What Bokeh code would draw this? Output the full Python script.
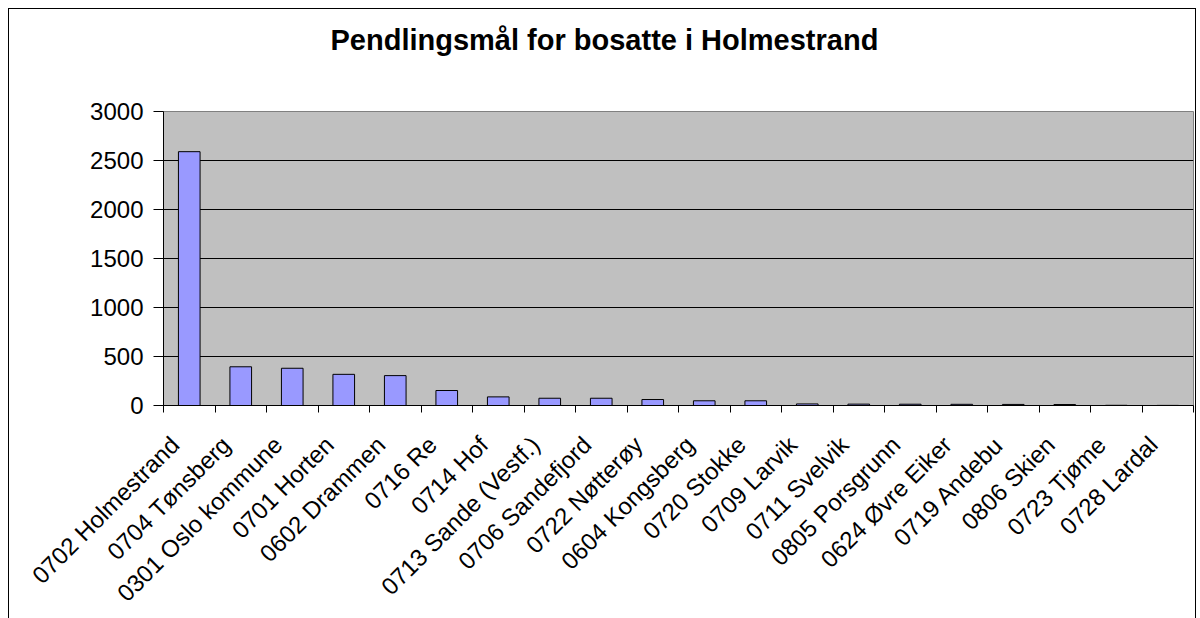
from bokeh.plotting import figure
from bokeh.models import FixedTicker, Range1d, ColumnDataSource, Title
from bokeh.embed import file_html
from bokeh.resources import INLINE
import math

categories = ["0702 Holmestrand", "0704 Tønsberg", "0301 Oslo kommune", "0701 Horten",
              "0602 Drammen", "0716 Re", "0714 Hof", "0713 Sande (Vestf.)",
              "0706 Sandefjord", "0722 Nøtterøy", "0604 Kongsberg", "0720 Stokke",
              "0709 Larvik", "0711 Svelvik", "0805 Porsgrunn", "0624 Øvre Eiker",
              "0719 Andebu", "0806 Skien", "0723 Tjøme", "0728 Lardal"]
values = [2590, 395, 380, 318, 305, 153, 88, 74, 74, 61, 48, 48,
          16, 14, 13, 12, 11, 10, 2, 1]
y_ticks = [0, 500, 1000, 1500, 2000, 2500, 3000]
title_text = "Pendlingsmål for bosatte i Holmestrand"

n = len(categories)
xpos = [i + 0.5 for i in range(n)]
label_pos = [x - 0.28 for x in xpos]
src = ColumnDataSource(dict(x=xpos, top=values, name=categories))

FONT = "Liberation Sans"

p = figure(width=1188, height=610, output_backend="svg", toolbar_location=None,
           x_range=Range1d(0, n), y_range=Range1d(0, 3000),
           min_border_left=154, min_border_right=4, min_border_top=102,
           min_border_bottom=212)
p.styles = {"margin-left": "8px", "margin-top": "8px",
            "border-top": "1px solid black", "border-left": "1px solid black",
            "border-right": "1px solid black"}

# spacer panel between the frame and the title
spacer = Title(text=" ", text_font_size="1px", standoff=46)
p.add_layout(spacer, "above")

t = Title(text=title_text, align="left", vertical_align="top", text_font=FONT,
          text_font_size="29px", text_font_style="bold", text_color="black",
          standoff=10, offset=167)
p.add_layout(t, "above")

p.background_fill_color = "#C0C0C0"
p.border_fill_color = "white"
p.outline_line_color = "#808080"
p.outline_line_width = 1

p.vbar(x="x", top="top", width=0.42, bottom=0, source=src,
       fill_color="#9999FF", line_color="black", line_width=1)

# y axis
p.yaxis.ticker = FixedTicker(ticks=y_ticks)
p.yaxis.major_tick_out = 10
p.yaxis.major_tick_in = 0
p.yaxis.minor_tick_out = 0
p.yaxis.minor_tick_in = 0
p.yaxis.axis_line_color = "black"
p.yaxis.major_tick_line_color = "black"
p.yaxis.major_label_text_font = FONT
p.yaxis.major_label_text_font_size = "24px"
p.yaxis.major_label_text_color = "black"
p.yaxis.major_label_standoff = 10

# x axis: labels near category centres, ticks at category boundaries
p.xaxis.ticker = FixedTicker(ticks=label_pos, minor_ticks=list(range(n + 1)))
p.xaxis.major_label_overrides = {x: c for x, c in zip(label_pos, categories)}
p.xaxis.major_tick_out = 0
p.xaxis.major_tick_in = 0
p.xaxis.minor_tick_out = 7
p.xaxis.minor_tick_in = 0
p.xaxis.minor_tick_line_color = "black"
p.xaxis.axis_line_color = "black"
p.xaxis.major_label_orientation = math.pi / 4
p.xaxis.major_label_text_font = FONT
p.xaxis.major_label_text_font_size = "24px"
p.xaxis.major_label_text_color = "black"
p.xaxis.major_label_standoff = 28

p.xgrid.grid_line_color = None
p.ygrid.ticker = FixedTicker(ticks=y_ticks)
p.ygrid.grid_line_color = "black"
p.ygrid.grid_line_width = 1

open("out.html", "w").write(file_html(p, INLINE))
